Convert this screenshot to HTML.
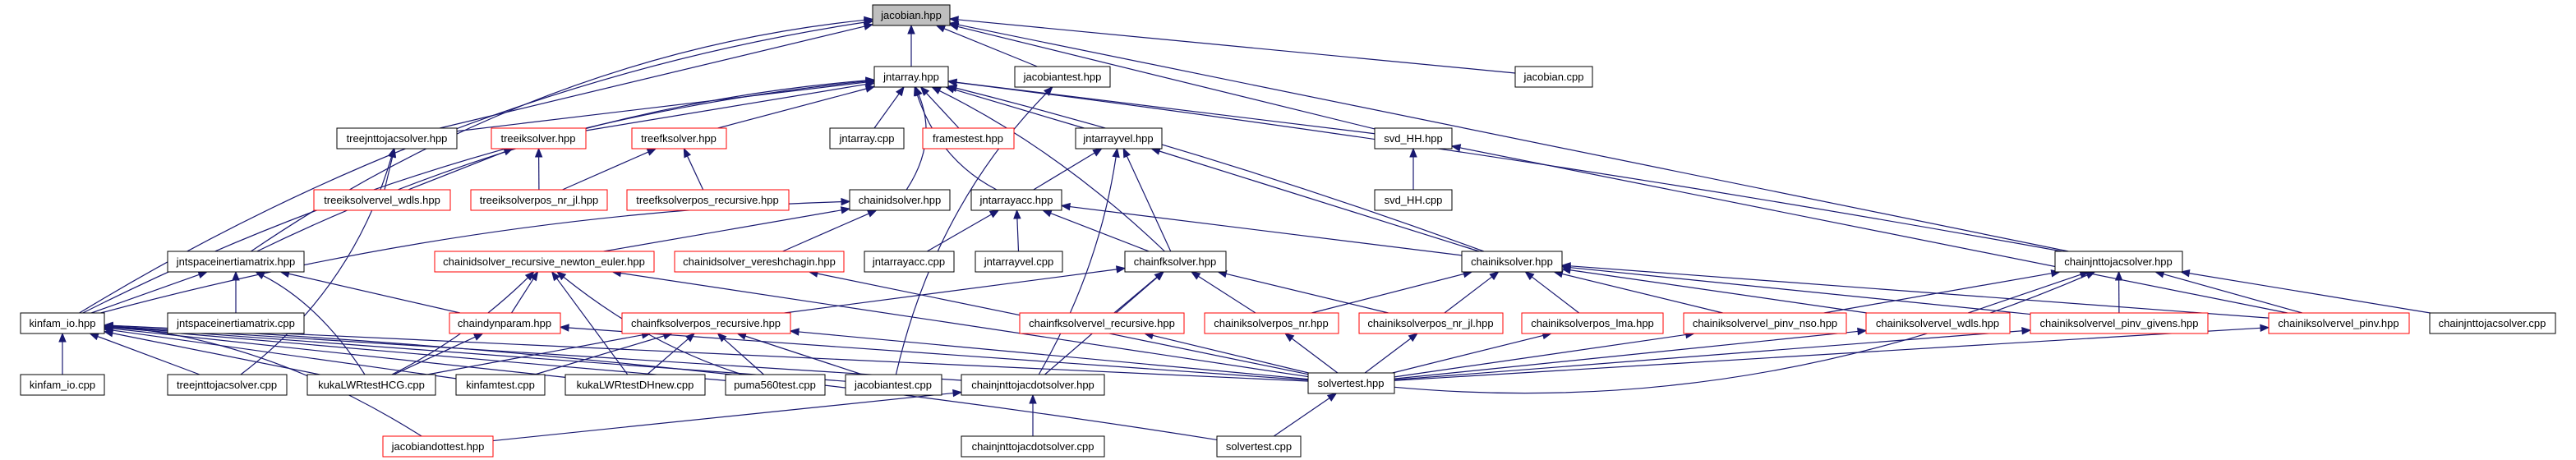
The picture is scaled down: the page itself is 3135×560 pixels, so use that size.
<!DOCTYPE html>
<html><head><meta charset="utf-8"><style>
html,body{margin:0;padding:0;background:#fff;}
svg{display:block}
text{font-family:"Liberation Sans",sans-serif;font-size:13px;fill:#000}
</style></head><body>
<svg id="g" width="3135" height="560" xmlns="http://www.w3.org/2000/svg">
<g id="edges" fill="none" stroke="#191970" stroke-width="1.2"></g>
<g id="heads" fill="#191970" stroke="#191970"></g>
<g id="nodes">
<rect x="1062" y="6" width="94" height="25" fill="#bfbfbf" stroke="#000"/><text x="1109" y="23" text-anchor="middle">jacobian.hpp</text>
<rect x="1064" y="81" width="90" height="25" fill="#fff" stroke="#000"/><text x="1109" y="98" text-anchor="middle">jntarray.hpp</text>
<rect x="1235" y="81" width="116" height="25" fill="#fff" stroke="#000"/><text x="1293" y="98" text-anchor="middle">jacobiantest.hpp</text>
<rect x="1844" y="81" width="94" height="25" fill="#fff" stroke="#000"/><text x="1891" y="98" text-anchor="middle">jacobian.cpp</text>

<rect x="410" y="156" width="146" height="25" fill="#fff" stroke="#000"/><text x="483" y="173" text-anchor="middle">treejnttojacsolver.hpp</text>
<rect x="598" y="156" width="115" height="25" fill="#fff" stroke="red"/><text x="655" y="173" text-anchor="middle">treeiksolver.hpp</text>
<rect x="769" y="156" width="115" height="25" fill="#fff" stroke="red"/><text x="826" y="173" text-anchor="middle">treefksolver.hpp</text>
<rect x="1010" y="156" width="90" height="25" fill="#fff" stroke="#000"/><text x="1055" y="173" text-anchor="middle">jntarray.cpp</text>
<rect x="1123" y="156" width="111" height="25" fill="#fff" stroke="red"/><text x="1178" y="173" text-anchor="middle">framestest.hpp</text>
<rect x="1309" y="156" width="105" height="25" fill="#fff" stroke="#000"/><text x="1361" y="173" text-anchor="middle">jntarrayvel.hpp</text>
<rect x="1673" y="156" width="94" height="25" fill="#fff" stroke="#000"/><text x="1720" y="173" text-anchor="middle">svd_HH.hpp</text>

<rect x="382" y="231" width="166" height="25" fill="#fff" stroke="red"/><text x="465" y="248" text-anchor="middle">treeiksolvervel_wdls.hpp</text>
<rect x="573" y="231" width="166" height="25" fill="#fff" stroke="red"/><text x="656" y="248" text-anchor="middle">treeiksolverpos_nr_jl.hpp</text>
<rect x="763" y="231" width="197" height="25" fill="#fff" stroke="red"/><text x="861" y="248" text-anchor="middle">treefksolverpos_recursive.hpp</text>
<rect x="1034" y="231" width="122" height="25" fill="#fff" stroke="#000"/><text x="1095" y="248" text-anchor="middle">chainidsolver.hpp</text>
<rect x="1182" y="231" width="110" height="25" fill="#fff" stroke="#000"/><text x="1237" y="248" text-anchor="middle">jntarrayacc.hpp</text>
<rect x="1673" y="231" width="94" height="25" fill="#fff" stroke="#000"/><text x="1720" y="248" text-anchor="middle">svd_HH.cpp</text>

<rect x="204" y="306" width="166" height="25" fill="#fff" stroke="#000"/><text x="287" y="323" text-anchor="middle">jntspaceinertiamatrix.hpp</text>
<rect x="529" y="306" width="267" height="25" fill="#fff" stroke="red"/><text x="662" y="323" text-anchor="middle">chainidsolver_recursive_newton_euler.hpp</text>
<rect x="821" y="306" width="206" height="25" fill="#fff" stroke="red"/><text x="924" y="323" text-anchor="middle">chainidsolver_vereshchagin.hpp</text>
<rect x="1052" y="306" width="109" height="25" fill="#fff" stroke="#000"/><text x="1106" y="323" text-anchor="middle">jntarrayacc.cpp</text>
<rect x="1187" y="306" width="106" height="25" fill="#fff" stroke="#000"/><text x="1240" y="323" text-anchor="middle">jntarrayvel.cpp</text>
<rect x="1369" y="306" width="123" height="25" fill="#fff" stroke="#000"/><text x="1430" y="323" text-anchor="middle">chainfksolver.hpp</text>
<rect x="1779" y="306" width="122" height="25" fill="#fff" stroke="#000"/><text x="1840" y="323" text-anchor="middle">chainiksolver.hpp</text>
<rect x="2501" y="306" width="155" height="25" fill="#fff" stroke="#000"/><text x="2578" y="323" text-anchor="middle">chainjnttojacsolver.hpp</text>

<rect x="25" y="381" width="102" height="25" fill="#fff" stroke="#000"/><text x="76" y="398" text-anchor="middle">kinfam_io.hpp</text>
<rect x="204" y="381" width="166" height="25" fill="#fff" stroke="#000"/><text x="287" y="398" text-anchor="middle">jntspaceinertiamatrix.cpp</text>
<rect x="547" y="381" width="135" height="25" fill="#fff" stroke="red"/><text x="614" y="398" text-anchor="middle">chaindynparam.hpp</text>
<rect x="757" y="381" width="205" height="25" fill="#fff" stroke="red"/><text x="859" y="398" text-anchor="middle">chainfksolverpos_recursive.hpp</text>
<rect x="1241" y="381" width="200" height="25" fill="#fff" stroke="red"/><text x="1341" y="398" text-anchor="middle">chainfksolvervel_recursive.hpp</text>
<rect x="1466" y="381" width="163" height="25" fill="#fff" stroke="red"/><text x="1547" y="398" text-anchor="middle">chainiksolverpos_nr.hpp</text>
<rect x="1654" y="381" width="175" height="25" fill="#fff" stroke="red"/><text x="1741" y="398" text-anchor="middle">chainiksolverpos_nr_jl.hpp</text>
<rect x="1852" y="381" width="172" height="25" fill="#fff" stroke="red"/><text x="1938" y="398" text-anchor="middle">chainiksolverpos_lma.hpp</text>
<rect x="2049" y="381" width="198" height="25" fill="#fff" stroke="red"/><text x="2148" y="398" text-anchor="middle">chainiksolvervel_pinv_nso.hpp</text>
<rect x="2271" y="381" width="175" height="25" fill="#fff" stroke="red"/><text x="2358" y="398" text-anchor="middle">chainiksolvervel_wdls.hpp</text>
<rect x="2471" y="381" width="216" height="25" fill="#fff" stroke="red"/><text x="2579" y="398" text-anchor="middle">chainiksolvervel_pinv_givens.hpp</text>
<rect x="2761" y="381" width="171" height="25" fill="#fff" stroke="red"/><text x="2846" y="398" text-anchor="middle">chainiksolvervel_pinv.hpp</text>
<rect x="2957" y="381" width="153" height="25" fill="#fff" stroke="#000"/><text x="3033" y="398" text-anchor="middle">chainjnttojacsolver.cpp</text>

<rect x="25" y="456" width="102" height="25" fill="#fff" stroke="#000"/><text x="76" y="473" text-anchor="middle">kinfam_io.cpp</text>
<rect x="204" y="456" width="145" height="25" fill="#fff" stroke="#000"/><text x="276" y="473" text-anchor="middle">treejnttojacsolver.cpp</text>
<rect x="374" y="456" width="156" height="25" fill="#fff" stroke="#000"/><text x="452" y="473" text-anchor="middle">kukaLWRtestHCG.cpp</text>
<rect x="555" y="456" width="108" height="25" fill="#fff" stroke="#000"/><text x="609" y="473" text-anchor="middle">kinfamtest.cpp</text>
<rect x="688" y="456" width="170" height="25" fill="#fff" stroke="#000"/><text x="773" y="473" text-anchor="middle">kukaLWRtestDHnew.cpp</text>
<rect x="883" y="456" width="121" height="25" fill="#fff" stroke="#000"/><text x="943" y="473" text-anchor="middle">puma560test.cpp</text>
<rect x="1029" y="456" width="117" height="25" fill="#fff" stroke="#000"/><text x="1087" y="473" text-anchor="middle">jacobiantest.cpp</text>
<rect x="1170" y="456" width="174" height="25" fill="#fff" stroke="#000"/><text x="1257" y="473" text-anchor="middle">chainjnttojacdotsolver.hpp</text>
<rect x="1592" y="454" width="105" height="25" fill="#fff" stroke="#000"/><text x="1644" y="471" text-anchor="middle">solvertest.hpp</text>

<rect x="466" y="531" width="134" height="25" fill="#fff" stroke="red"/><text x="533" y="548" text-anchor="middle">jacobiandottest.hpp</text>
<rect x="1170" y="531" width="174" height="25" fill="#fff" stroke="#000"/><text x="1257" y="548" text-anchor="middle">chainjnttojacdotsolver.cpp</text>
<rect x="1481" y="531" width="102" height="25" fill="#fff" stroke="#000"/><text x="1532" y="548" text-anchor="middle">solvertest.cpp</text>
</g>
</svg>
<script>
var N={
jac:[1062,6,94,25],ja:[1064,81,90,25],jth:[1235,81,116,25],jcpp:[1844,81,94,25],
tjh:[410,156,146,25],tik:[598,156,115,25],tfk:[769,156,115,25],jacpp:[1010,156,90,25],fr:[1123,156,111,25],jav:[1309,156,105,25],svd:[1673,156,94,25],
tw:[382,231,166,25],tnj:[573,231,166,25],tfr:[763,231,197,25],cid:[1034,231,122,25],jaa:[1182,231,110,25],svdc:[1673,231,94,25],
jsh:[204,306,166,25],rne:[529,306,267,25],ver:[821,306,206,25],jaac:[1052,306,109,25],javc:[1187,306,106,25],cfk:[1369,306,123,25],cik:[1779,306,122,25],cjj:[2501,306,155,25],
kio:[25,381,102,25],jsc:[204,381,166,25],cdp:[547,381,135,25],cfr:[757,381,205,25],cfv:[1241,381,200,25],cnr:[1466,381,163,25],cnj:[1654,381,175,25],clm:[1852,381,172,25],nso:[2049,381,198,25],vw:[2271,381,175,25],giv:[2471,381,216,25],vp:[2761,381,171,25],cjc:[2957,381,153,25],
kioc:[25,456,102,25],tjc:[204,456,145,25],hcg:[374,456,156,25],kft:[555,456,108,25],dh:[688,456,170,25],puma:[883,456,121,25],jtc:[1029,456,117,25],dot:[1170,456,174,25],sth:[1592,454,105,25],
jdt:[466,531,134,25],dotc:[1170,531,174,25],stc:[1481,531,102,25]};
var E=[["ja","jac"],["jth","jac"],["jcpp","jac"],["svd","jac"],["cjj","jac"],["tjh","jac"],["jsh","jac",-110],["kio","jac",-110],
["tjh","ja"],["tik","ja"],["tfk","ja"],["jacpp","ja"],["fr","ja"],["jav","ja"],["svd","ja"],["cid","ja",40],["jaa","ja",-40],["cfk","ja",30],["cik","ja",20],["cjj","ja",20],["jsh","ja",-80],["kio","ja",-100],
["tw","tjh"],["tw","tik"],["tnj","tik"],["tnj","tfk"],["tfr","tfk"],["tjc","tjh",60],["svdc","svd"],
["jaa","jav"],["cfk","jav"],["cik","jav"],["dot","jav",30],["jaac","jaa"],["javc","jaa"],["cfk","jaa"],["cik","jaa"],
["rne","cid"],["ver","cid"],["kio","cid",-60],["kio","jsh"],["jsc","jsh"],["hcg","jsh",30],["cdp","jsh"],
["cdp","rne"],["hcg","rne",20],["dh","rne"],["puma","rne",-30],["sth","rne"],["sth","ver"],
["cfr","cfk"],["cfv","cfk"],["cnr","cfk"],["cnj","cfk"],
["cnr","cik"],["cnj","cik"],["clm","cik"],["nso","cik"],["vw","cik"],["giv","cik"],["vp","cik"],
["nso","cjj"],["vw","cjj"],["giv","cjj"],["vp","cjj"],["cjc","cjj"],["sth","cjj",120],["vp","svd"],["jtc","jth",-60],
["kioc","kio"],["tjc","kio"],["hcg","kio"],["kft","kio"],["dh","kio"],["puma","kio"],["jtc","kio"],["dot","kio"],["sth","kio"],["jdt","kio",60],["stc","kio",40],
["hcg","cdp"],["sth","cdp"],["hcg","cfr"],["kft","cfr"],["dh","cfr"],["puma","cfr"],["sth","cfr"],["jtc","cfr"],
["sth","cfv"],["sth","cnr"],["sth","cnj"],["sth","clm"],["sth","nso"],["sth","vw"],["sth","giv"],["sth","vp"],
["stc","sth"],["dotc","dot"],["jdt","dot"],["dot","cfk"]];
function clip(b,cx,cy,dx,dy){var hw=b[2]/2,hh=b[3]/2;var t=Math.min(dx?hw/Math.abs(dx):1e9,dy?hh/Math.abs(dy):1e9);return [cx+dx*t,cy+dy*t];}
var eg=document.getElementById('edges'),hg=document.getElementById('heads'),ns='http://www.w3.org/2000/svg';
E.forEach(function(e){var a=N[e[0]],b=N[e[1]];var ax=a[0]+a[2]/2,ay=a[1]+a[3]/2,bx=b[0]+b[2]/2,by=b[1]+b[3]/2;
var bend=e[2]||0;var mx=(ax+bx)/2,my=(ay+by)/2;var dx=bx-ax,dy=by-ay,L=Math.hypot(dx,dy);var px=-dy/L,py=dx/L;var qx=mx+px*bend,qy=my+py*bend;
var s=clip(a,ax,ay,qx-ax,qy-ay),t=clip(b,bx,by,qx-bx,qy-by);
var ux=t[0]-qx,uy=t[1]-qy,ul=Math.hypot(ux,uy);ux/=ul;uy/=ul;var ex=t[0]-ux*10,ey=t[1]-uy*10;
var p=document.createElementNS(ns,'path');p.setAttribute('d','M'+s[0]+','+s[1]+' Q'+qx+','+qy+' '+ex+','+ey);eg.appendChild(p);
var h=document.createElementNS(ns,'polygon');var wx=-uy*4,wy=ux*4;h.setAttribute('points',t[0]+','+t[1]+' '+(ex+wx)+','+(ey+wy)+' '+(ex-wx)+','+(ey-wy));hg.appendChild(h);});
</script>
</body></html>
